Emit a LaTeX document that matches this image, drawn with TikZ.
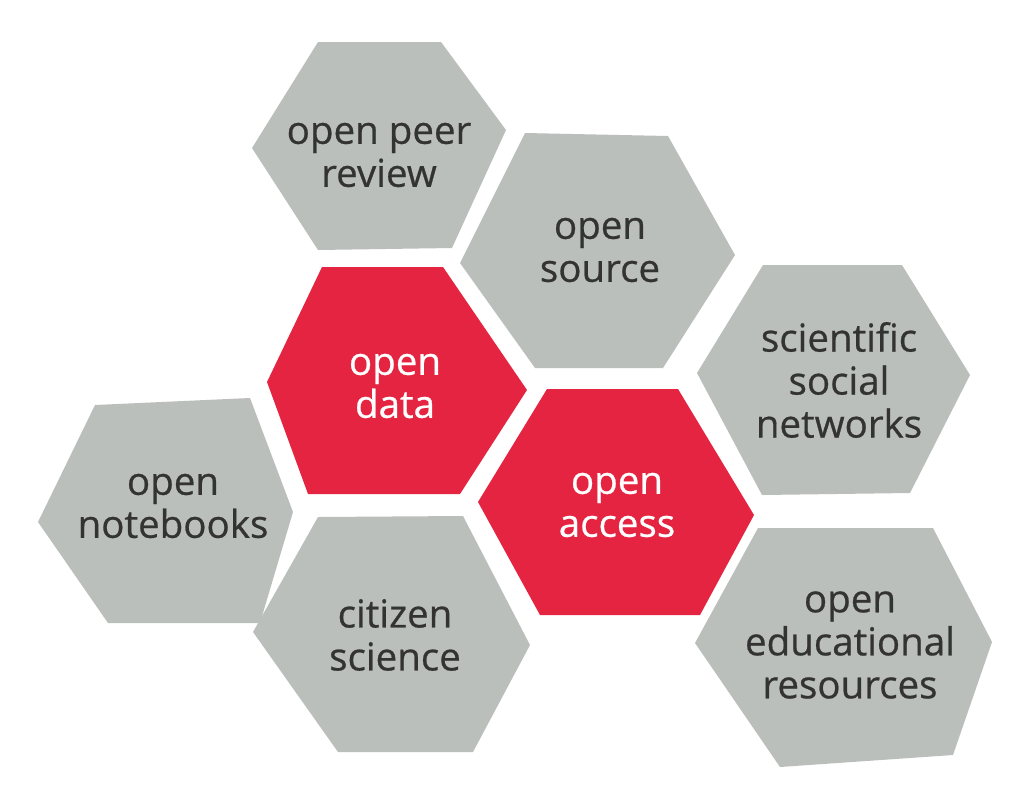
\documentclass[tikz,border=0pt]{standalone}
\usepackage{fontspec}
\setmainfont{Open Sans}
\newfontfamily\lblfont{Open Sans}[FakeBold=0.6]
\definecolor{hexgray}{HTML}{BBBFBB}
\definecolor{hexred}{HTML}{E42440}
\definecolor{txtdark}{HTML}{333333}
\begin{document}
\begin{tikzpicture}[x=1pt,y=-1pt,
  graylbl/.style={align=center,text=txtdark,font=\lblfont\fontsize{38.5}{43}\selectfont,inner sep=0pt},
  redlbl/.style={align=center,text=white,font=\lblfont\fontsize{38.5}{43}\selectfont,inner sep=0pt}]
\useasboundingbox[fill=white] (0,0) rectangle (1033,796);
% hexagons
\fill[hexgray] (318,42) -- (441,42) -- (506,130) -- (452,248) -- (318,250) -- (252,148) -- cycle;
\fill[hexgray] (525,133) -- (668,136) -- (735,255) -- (663,368) -- (535,368) -- (460,263) -- cycle;
\fill[hexred] (322,267) -- (443,267) -- (527,390) -- (460,494) -- (308,494) -- (267,382) -- cycle;
\fill[hexred] (547,389) -- (678,389) -- (754,515) -- (700,615) -- (540,615) -- (478,502) -- cycle;
\fill[hexgray] (95,405) -- (250,398) -- (293,512) -- (260,623) -- (108,623) -- (38,522) -- cycle;
\fill[hexgray] (318,517) -- (463,516) -- (530,645) -- (473,752) -- (338,752) -- (253,632) -- cycle;
\fill[hexgray] (763,265) -- (902,265) -- (970,375) -- (910,493) -- (762,495) -- (697,373) -- cycle;
\fill[hexgray] (758,528) -- (933,528) -- (992,642) -- (953,755) -- (780,767) -- (695,643) -- cycle;
% labels
\node[graylbl] (peer) at (379,155) {open peer\\review};
\node[graylbl] (source) at (600,250) {open\\source};
\node[redlbl] (data) at (395,386) {open\\data};
\node[redlbl] (access) at (617,505) {open\\access};
\node[graylbl] (notebooks) at (173,506) {open\\notebooks};
\node[graylbl] (citizen) at (395,635) {citizen\\science};
\node[graylbl] (social) at (839,380) {scientific\\social\\networks};
\node[graylbl] (oer) at (850,645) {open\\educational\\resources};
\end{tikzpicture}
\end{document}
